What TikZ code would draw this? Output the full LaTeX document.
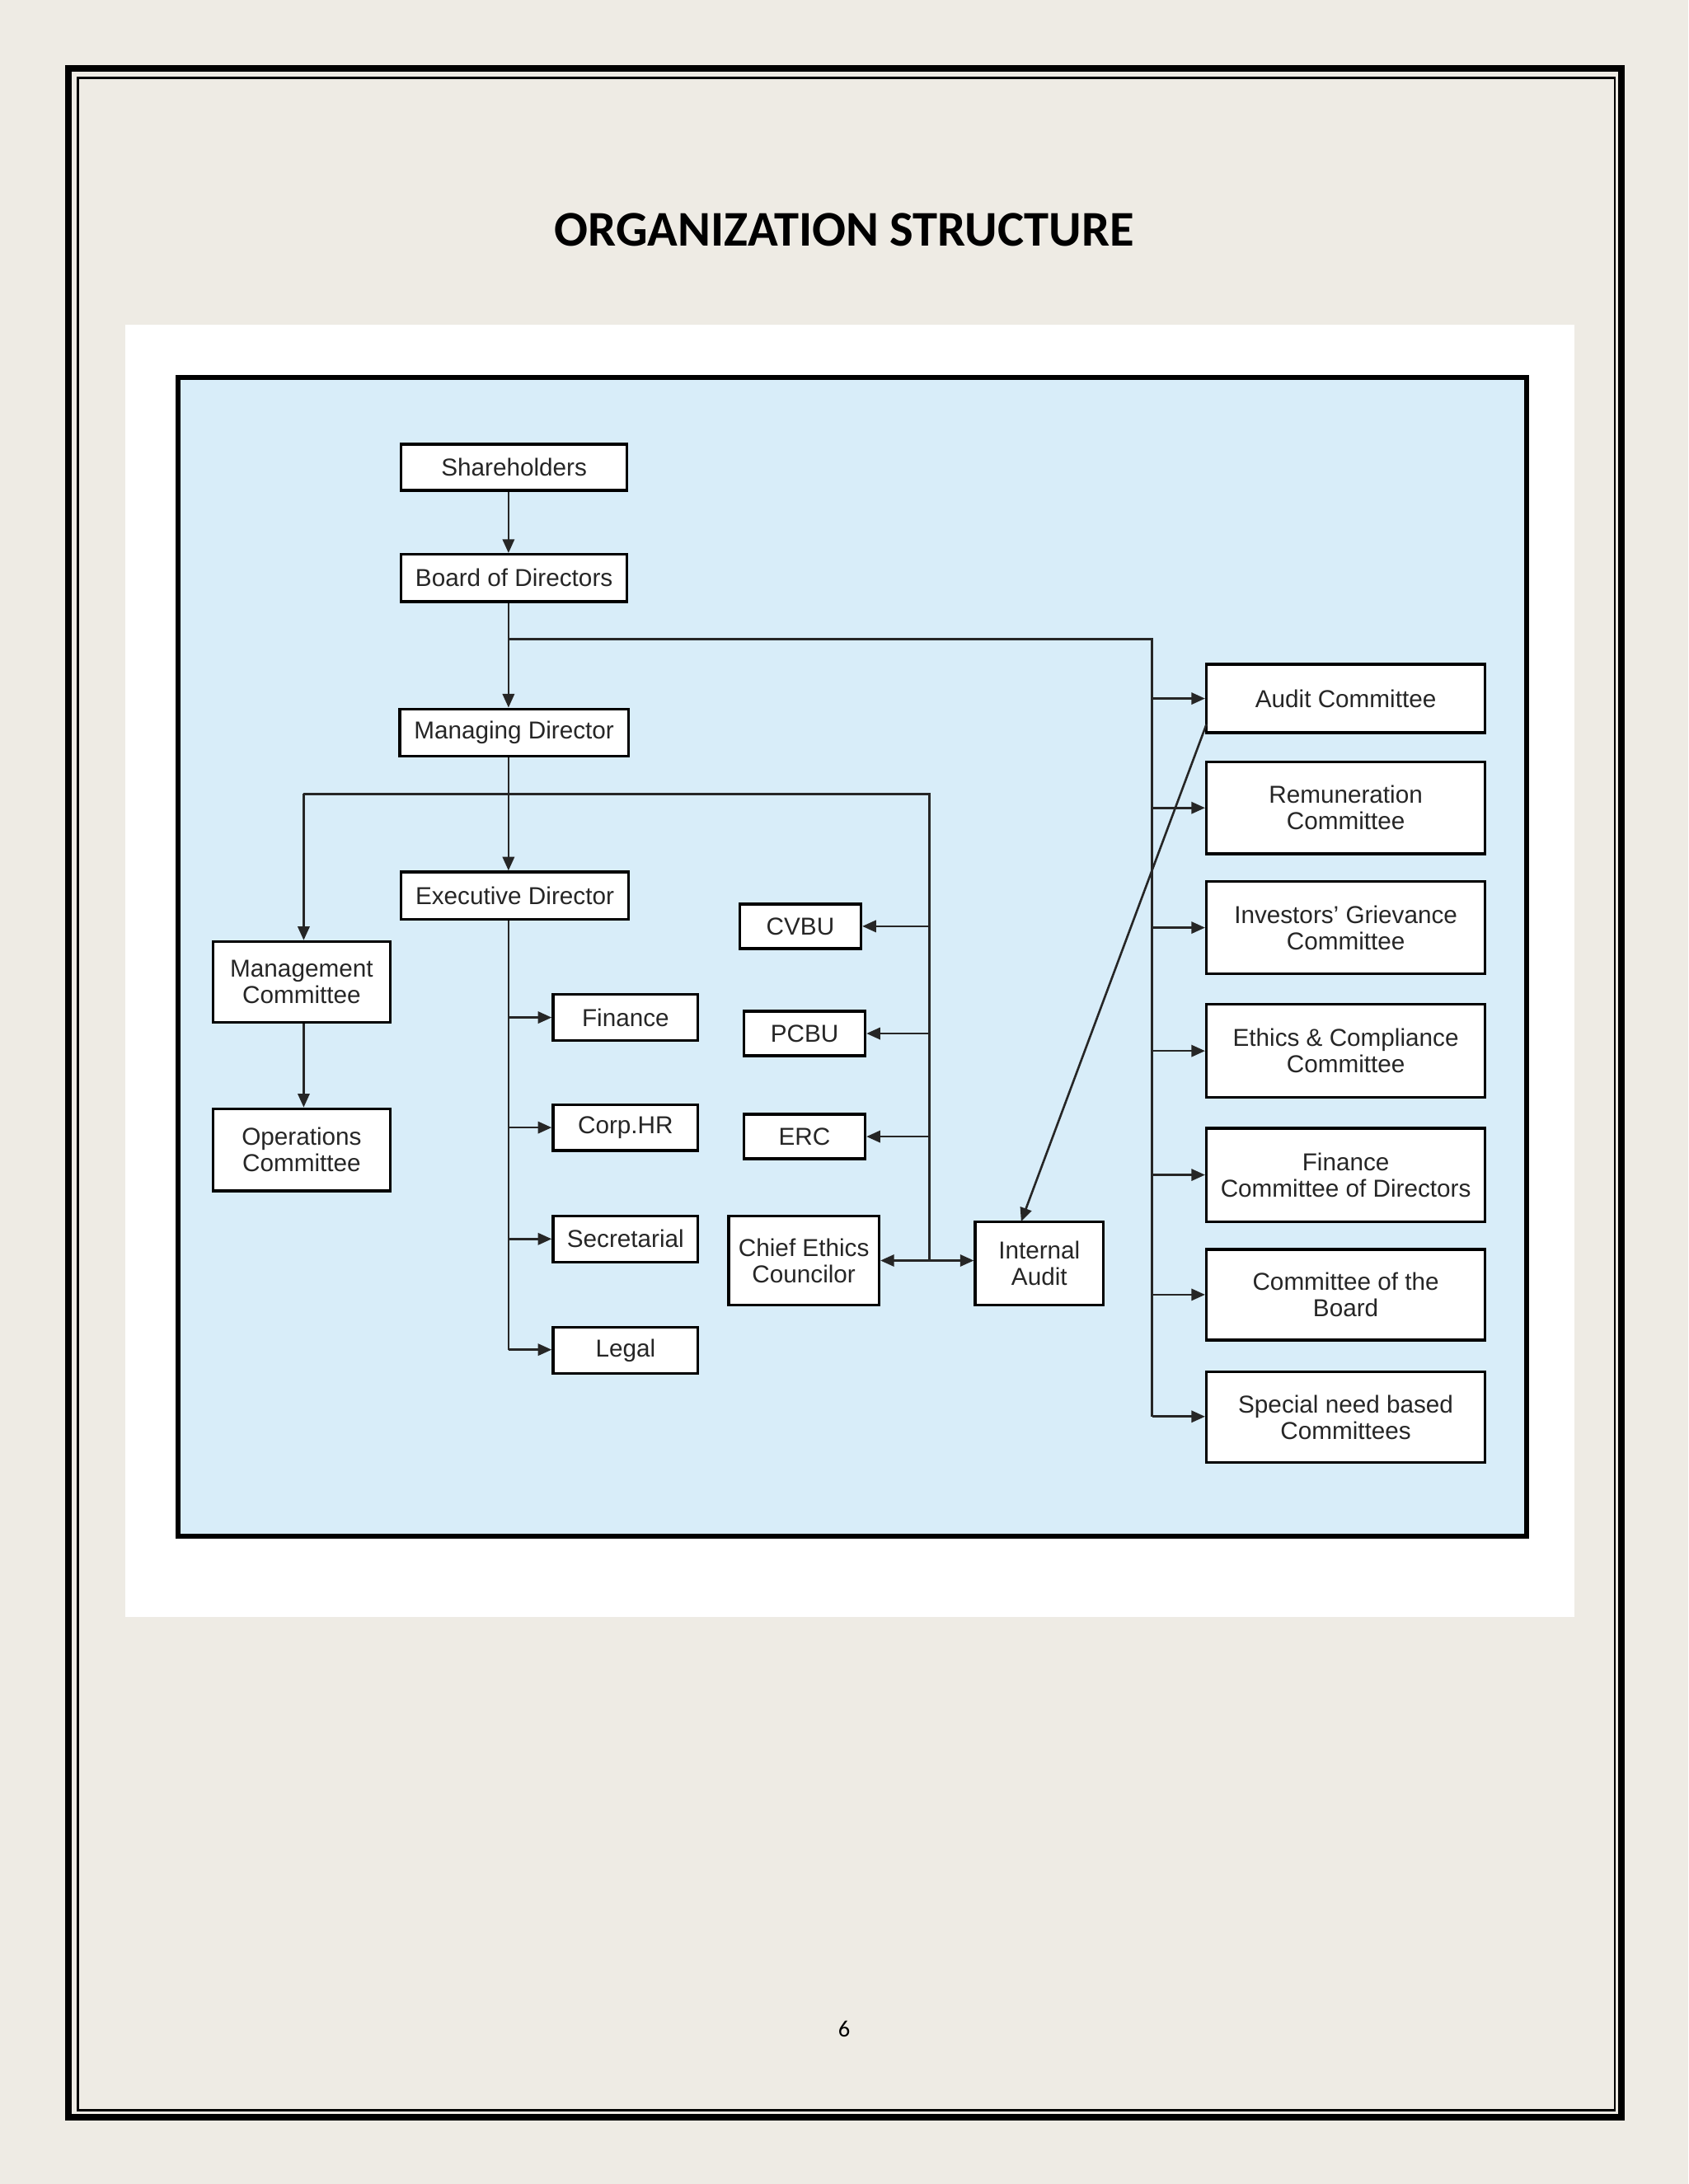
\documentclass[tikz,border=0pt]{standalone}
\usepackage{fontspec}
\setmainfont{Liberation Sans}
\newfontfamily\titlefont{Carlito}
\usetikzlibrary{arrows.meta}
\definecolor{page}{HTML}{EEEBE4}
\definecolor{panel}{HTML}{D8EDF9}
\begin{document}
\begin{tikzpicture}[x=0.05cm,y=-0.05cm,
 box/.style={draw=black,line width=2.8pt,fill=white,align=center,inner sep=0pt,font=\fontsize{25}{27}\selectfont,text=black!85},
 con/.style={line width=2.2pt,draw=black!85},
 arr/.style={con,-{Triangle[length=14pt,width=12pt]}}]
\useasboundingbox (0,0) rectangle (1212,1568);
\fill[page] (0,0) rectangle (1212,1568);
\draw[line width=7pt] (49,49) rectangle (1164,1520);
\draw[line width=2pt] (56,56) rectangle (1159,1515);
\node[font=\titlefont\bfseries\fontsize{51}{55}\selectfont] (title) at (606,165) {ORGANIZATION STRUCTURE};
\fill[white] (90,233) rectangle (1130,1161);
\fill[panel] (128,271) rectangle (1096,1103);
\draw[line width=5pt] (128,271) rectangle (1096,1103);
% boxes
\newcommand{\bx}[6]{\node[box,minimum width={(#4-#2)*0.05cm},minimum height={(#5-#3)*0.05cm}] (#1) at ({(#2+#4)/2},{(#3+#5)/2}) {#6};}
\bx{sh}{288}{319}{450}{352}{Shareholders}
\bx{bd}{288}{398}{450}{432}{Board of Directors}
\bx{md}{287}{509}{451}{543}{Managing Director}
\bx{ed}{288}{626}{451}{660}{Executive Director}
\bx{mc}{153}{676}{280}{734}{Management\\Committee}
\bx{oc}{153}{796}{280}{855}{Operations\\Committee}
\bx{fi}{397}{714}{501}{747}{Finance}
\bx{hr}{397}{793}{501}{826}{Corp.HR}
\bx{se}{397}{873}{501}{906}{Secretarial}
\bx{le}{397}{953}{501}{986}{Legal}
\bx{cv}{531}{649}{618}{681}{CVBU}
\bx{pc}{534}{726}{621}{758}{PCBU}
\bx{er}{534}{800}{621}{832}{ERC}
\bx{ce}{523}{873}{631}{937}{Chief Ethics\\Councilor}
\bx{ia}{700}{877}{792}{937}{Internal\\Audit}
\bx{ac}{866}{477}{1066}{526}{Audit Committee}
\bx{rc}{866}{547}{1066}{613}{Remuneration\\Committee}
\bx{ig}{866}{633}{1066}{699}{Investors' Grievance\\Committee}
\bx{ec}{866}{721}{1066}{788}{Ethics \& Compliance\\Committee}
\bx{fc}{866}{810}{1066}{877}{Finance\\Committee of Directors}
\bx{cb}{866}{897}{1066}{962}{Committee of the\\Board}
\bx{sn}{866}{985}{1066}{1050}{Special need based\\Committees}
% connectors
\coordinate (vx) at (365,0);
\draw[arr] (vx |- sh.south) -- (vx |- bd.north);
\draw[arr] (vx |- bd.south) -- (vx |- md.north);
\coordinate (r0) at (365,459);
\coordinate (r1) at (827,459);
\coordinate (rb) at (827,1017);
\draw[con] (r0) -- (r1) -- (rb);
\foreach \n in {ac,rc,ig,ec,fc,cb}{\draw[arr] (r1 |- \n.west) -- (\n.west);}
\draw[arr] (rb) -- (sn.west |- rb);
\draw[arr] (vx |- md.south) -- (vx |- ed.north);
\coordinate (ml) at (218,570);
\coordinate (mr) at (667,570);
\coordinate (mb) at (667,905);
\draw[con] (ml) -- (mr) -- (mb);
\draw[arr] (ml) -- (mc.north -| ml);
\draw[arr] (mc.south -| ml) -- (oc.north -| ml);
\foreach \n in {cv,pc,er}{\draw[arr] (mr |- \n.east) -- (\n.east);}
\draw[con,{Triangle[length=14pt,width=12pt]}-{Triangle[length=14pt,width=12pt]}] (ce.east |- mb) -- (ia.west |- mb);
\coordinate (e1) at (365,969);
\draw[con] (vx |- ed.south) -- (e1);
\foreach \n in {fi,hr,se}{\draw[arr] (vx |- \n.west) -- (\n.west);}
\draw[arr] (e1) -- (le.west |- e1);
\coordinate (a1) at (866,520);
\coordinate (a2) at (733,877);
\draw[arr] (a1) -- (a2);
\node[font=\titlefont\fontsize{24}{26}\selectfont] (pn) at (606,1457) {6};
\end{tikzpicture}
\end{document}
